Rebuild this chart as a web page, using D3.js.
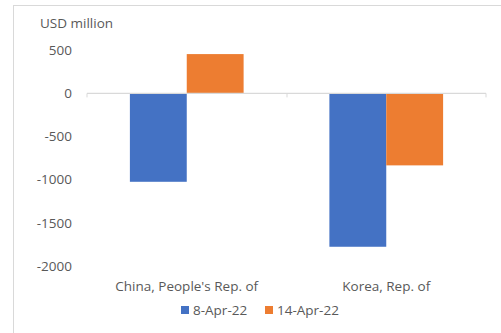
<!DOCTYPE html>
<html>
<head>
<meta charset="utf-8">
<script src="https://cdn.jsdelivr.net/npm/d3@7"></script>
<style>
  body { margin: 0; background: #fff; }
  text { font-family: "Open Sans", Lato, sans-serif; fill: #595959; font-size: 13.5px; }
</style>
</head>
<body>
<div id="chart"></div>
<script>
// values
const categories = ["China, People's Rep. of", "Korea, Rep. of"]
const seriesNames = ["8-Apr-22", "14-Apr-22"]
const apr8 = [-1023, -1775]
const apr14 = [455, -833]
const yTicks = [500, 0, -500, -1000, -1500, -2000]
const colors = ["#4472c4", "#ed7d31"]

const width = 501
const height = 333

const svg = d3.select('#chart')
    .append('svg')
    .attr('width', width)
    .attr('height', height)

// chart frame (cropped on right / bottom like the picture)
svg.append('rect')
    .attr('x', 13.5).attr('y', 5.5)
    .attr('width', 500).attr('height', 340)
    .attr('fill', 'none')
    .attr('stroke', '#d9d9d9')

const xScale = d3.scaleBand()
    .domain(categories)
    .range([87, 486])

const bw = xScale.bandwidth()
const sub = d3.scaleBand()
    .domain(seriesNames)
    .range([bw * 0.215, bw * 0.785])

const yScale = d3.scaleLinear()
    .domain([-2000, 500])
    .range([266.2, 50.2])

svg.append('text')
    .attr('x', 40)
    .attr('y', 28)
    .text('USD million')

// y tick labels
svg.selectAll('.ylab')
    .data(yTicks)
    .join('text')
    .attr('class', 'ylab')
    .attr('x', 72)
    .attr('y', d => yScale(d) + 4.5)
    .attr('text-anchor', 'end')
    .text(d => d)

const rows = categories.map((c, i) => ({ cat: c, vals: [apr8[i], apr14[i]] }))

const groups = svg.append('g')
    .selectAll('g')
    .data(rows)
    .join('g')
    .attr('transform', d => `translate(${xScale(d.cat)},0)`)

groups.selectAll('rect')
    .data(d => d.vals.map((v, j) => ({ name: seriesNames[j], v: v, j: j })))
    .join('rect')
    .attr('x', d => sub(d.name))
    .attr('width', sub.bandwidth())
    .attr('y', d => yScale(Math.max(0, d.v)))
    .attr('height', d => Math.abs(yScale(d.v) - yScale(0)))
    .attr('fill', d => colors[d.j])

// zero axis with category ticks
svg.append('g')
    .attr('transform', `translate(0,${yScale(0)})`)
    .call(g => g.append('line')
        .attr('x1', 87).attr('x2', 486)
        .attr('stroke', '#d9d9d9').attr('stroke-width', 1.2))
    .call(g => g.selectAll('.edge')
        .data([87, 287, 486])
        .join('line')
        .attr('x1', d => d).attr('x2', d => d)
        .attr('y1', 0).attr('y2', 4)
        .attr('stroke', '#d9d9d9'))

svg.selectAll('.xlab')
    .data(categories)
    .join('text')
    .attr('class', 'xlab')
    .attr('x', d => xScale(d) + bw / 2)
    .attr('y', 291)
    .attr('text-anchor', 'middle')
    .text(d => d)

// legend
const legend = svg.append('g')
const legX = [181, 265]
seriesNames.forEach((s, i) => {
    legend.append('rect')
        .attr('x', legX[i]).attr('y', 306)
        .attr('width', 8).attr('height', 8)
        .attr('fill', colors[i])
    legend.append('text')
        .attr('x', legX[i] + 12).attr('y', 315)
        .text(s)
})
</script>
</body>
</html>
